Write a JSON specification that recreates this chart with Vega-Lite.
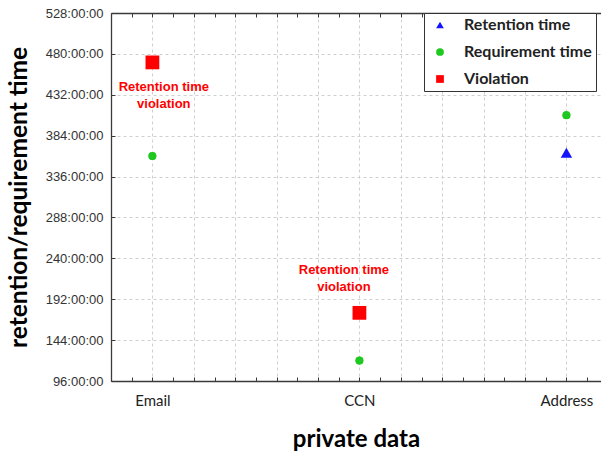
{
  "$schema": "https://vega.github.io/schema/vega-lite/v6.json",
  "width": 490,
  "height": 368,
  "autosize": {"type": "none"},
  "padding": {"left": 111, "top": 13, "right": 0, "bottom": 72},
  "background": "white",
  "datasets": {
    "points": [
      {"item": "Email", "pos": 1, "series": "Retention time", "hours": 470},
      {"item": "CCN", "pos": 2, "series": "Retention time", "hours": 175},
      {"item": "Address", "pos": 3, "series": "Retention time", "hours": 364},
      {"item": "Email", "pos": 1, "series": "Requirement time", "hours": 360},
      {"item": "CCN", "pos": 2, "series": "Requirement time", "hours": 120},
      {"item": "Address", "pos": 3, "series": "Requirement time", "hours": 408},
      {"item": "Email", "pos": 1, "series": "Violation", "hours": 470},
      {"item": "CCN", "pos": 2, "series": "Violation", "hours": 176}
    ]
  },
  "config": {
    "view": {"stroke": null},
    "axis": {
      "domainColor": "#3a3a3a",
      "domainWidth": 1.3,
      "tickColor": "#3a3a3a",
      "gridColor": "#cfcfcf",
      "gridDash": [3, 3],
      "gridWidth": 1
    }
  },
  "layer": [
    {
      "data": {"name": "points"},
      "mark": {"type": "point", "filled": true, "opacity": 1, "size": 60},
      "encoding": {
        "x": {
          "field": "pos",
          "type": "quantitative",
          "scale": {"domain": [0.8, 3.167], "nice": false, "zero": false},
          "axis": {
            "orient": "bottom",
            "values": [0.8, 0.9, 1, 1.1, 1.2, 1.3, 1.4, 1.5, 1.6, 1.7, 1.8, 1.9, 2, 2.1, 2.2, 2.3, 2.4, 2.5, 2.6, 2.7, 2.8, 2.9, 3, 3.1],
            "labelExpr": "datum.value == 1 ? 'Email' : datum.value == 2 ? 'CCN' : datum.value == 3 ? 'Address' : ''",
            "labelFont": "Lato",
            "labelFontSize": 15,
            "labelColor": "#222222",
            "labelPadding": 16,
            "tickSize": -4,
            "grid": true,
            "gridOpacity": {"condition": {"test": "round(datum.value*10) % 2 == 0", "value": 1}, "value": 0},
            "title": "private data",
            "titleFont": "Lato",
            "titleFontSize": 24,
            "titleFontWeight": "bold",
            "titleColor": "#000000",
            "titlePadding": 19
          }
        },
        "y": {
          "field": "hours",
          "type": "quantitative",
          "scale": {"domain": [96, 528], "nice": false, "zero": false},
          "axis": {
            "values": [96, 120, 144, 168, 192, 216, 240, 264, 288, 312, 336, 360, 384, 408, 432, 456, 480, 504, 528],
            "labelExpr": "datum.value % 48 == 0 ? datum.value + ':00:00' : ''",
            "labelFont": "Liberation Sans",
            "labelFontSize": 13,
            "labelColor": "#333333",
            "labelPadding": 12,
            "tickSize": -4,
            "grid": true,
            "gridOpacity": {"condition": {"test": "datum.value % 48 == 0", "value": 1}, "value": 0},
            "title": "retention/requirement time",
            "titleFont": "Lato",
            "titleFontSize": 24.5,
            "titleFontWeight": "bold",
            "titleColor": "#000000",
            "titlePadding": 14
          }
        },
        "shape": {
          "field": "series",
          "type": "nominal",
          "scale": {"domain": ["Retention time", "Requirement time", "Violation"], "range": ["triangle-up", "circle", "square"]},
          "legend": {
            "title": null,
            "orient": "none",
            "legendX": 313,
            "legendY": 0,
            "fillColor": "white",
            "strokeColor": "#333333",
            "padding": 4,
            "symbolOffset": 4,
            "labelOffset": 16,
            "symbolSize": 60,
            "rowPadding": 11,
            "labelFont": "Lato",
            "labelFontSize": 16,
            "labelFontWeight": "bold",
            "labelColor": "#222222",
            "labelExpr": "datum.label + '\u00a0\u00a0\u00a0\u00a0\u00a0\u00a0'"
          }
        },
        "color": {
          "field": "series",
          "type": "nominal",
          "scale": {"domain": ["Retention time", "Requirement time", "Violation"], "range": ["#1414ff", "#1ec81e", "#ff0000"]},
          "legend": {
            "title": null,
            "orient": "none",
            "legendX": 313,
            "legendY": 0,
            "fillColor": "white",
            "strokeColor": "#333333",
            "padding": 4,
            "symbolOffset": 4,
            "labelOffset": 16,
            "symbolSize": 60,
            "rowPadding": 11,
            "labelFont": "Lato",
            "labelFontSize": 16,
            "labelFontWeight": "bold",
            "labelColor": "#222222",
            "labelExpr": "datum.label + '\u00a0\u00a0\u00a0\u00a0\u00a0\u00a0'"
          }
        }
      }
    },
    {
      "data": {"name": "points"},
      "transform": [{"filter": "datum.series == 'Retention time'"}],
      "mark": {"type": "point", "filled": true, "opacity": 1, "size": 130},
      "encoding": {
        "x": {"field": "pos", "type": "quantitative", "axis": null},
        "y": {"field": "hours", "type": "quantitative"},
        "shape": {"field": "series", "type": "nominal", "legend": null},
        "color": {"field": "series", "type": "nominal", "legend": null}
      }
    },
    {
      "data": {"name": "points"},
      "transform": [{"filter": "datum.series == 'Requirement time'"}],
      "mark": {"type": "point", "filled": true, "opacity": 1, "size": 64},
      "encoding": {
        "x": {"field": "pos", "type": "quantitative", "axis": null},
        "y": {"field": "hours", "type": "quantitative"},
        "shape": {"field": "series", "type": "nominal", "legend": null},
        "color": {"field": "series", "type": "nominal", "legend": null}
      }
    },
    {
      "data": {"name": "points"},
      "transform": [{"filter": "datum.series == 'Violation'"}],
      "mark": {"type": "point", "filled": true, "opacity": 1, "size": 190},
      "encoding": {
        "x": {"field": "pos", "type": "quantitative", "axis": null},
        "y": {"field": "hours", "type": "quantitative"},
        "shape": {"field": "series", "type": "nominal", "legend": null},
        "color": {"field": "series", "type": "nominal", "legend": null}
      }
    },
    {
      "data": {
        "values": [
          {"label": "Retention time\nviolation", "pos": 1.055, "hours": 441},
          {"label": "Retention time\nviolation", "pos": 1.925, "hours": 226}
        ]
      },
      "mark": {"type": "text", "lineBreak": "\n", "font": "Liberation Sans", "fontSize": 13, "fontWeight": "bold", "color": "#ff0000", "align": "center", "baseline": "middle", "lineHeight": 17},
      "encoding": {
        "x": {"field": "pos", "type": "quantitative", "axis": null},
        "y": {"field": "hours", "type": "quantitative"},
        "text": {"field": "label", "type": "nominal"}
      }
    },
    {
      "data": {"values": [{"pos": 1}]},
      "mark": {"type": "point", "opacity": 0},
      "encoding": {
        "x": {
          "field": "pos",
          "type": "quantitative",
          "axis": {
            "orient": "top",
            "values": [0.8, 0.9, 1, 1.1, 1.2, 1.3, 1.4, 1.5, 1.6, 1.7, 1.8, 1.9, 2, 2.1, 2.2, 2.3, 2.4, 2.5, 2.6, 2.7, 2.8, 2.9, 3, 3.1],
            "labels": false,
            "title": null,
            "grid": false,
            "tickSize": -4
          }
        }
      }
    }
  ],
  "resolve": {"axis": {"x": "independent"}}
}
